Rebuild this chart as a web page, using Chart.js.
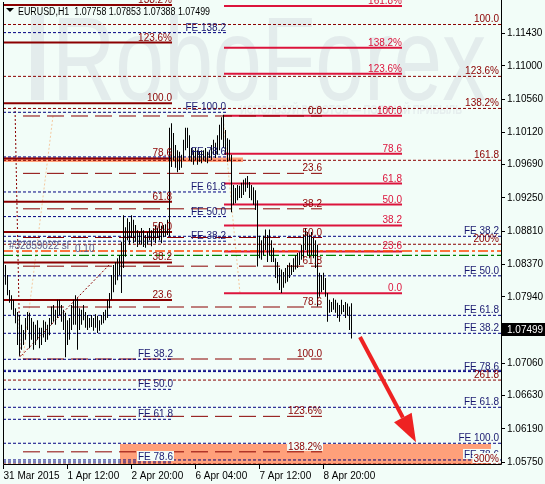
<!DOCTYPE html>
<html>
<head>
<meta charset="utf-8">
<script src="https://cdn.jsdelivr.net/npm/chart.js@4.4.1/dist/chart.umd.min.js"></script>
<style>
  html, body { margin: 0; padding: 0; background: #F2FDF8; }
</style>
</head>
<body>
<canvas id="chart" width="545" height="484"></canvas>
<script>
// EURUSD H1, bar 0 = 31 Mar 2015 04:00, one bar per hour
const highs = [
  1.0840,1.0836,1.0823,1.0803,1.0796,1.0790,1.0779,1.0774,1.0770,1.0757,
  1.0750,1.0766,1.0774,1.0773,1.0766,1.0761,1.0757,1.0763,1.0753,1.0753,
  1.0763,1.0761,1.0757,1.0766,1.0781,1.0783,1.0777,1.0790,1.0790,1.0783,
  1.0777,1.0773,1.0763,1.0766,1.0783,1.0790,1.0796,1.0792,1.0779,1.0777,
  1.0783,1.0774,1.0770,1.0766,1.0770,1.0766,1.0771,1.0769,1.0763,1.0770,
  1.0774,1.0777,1.0790,1.0799,1.0823,1.0836,1.0840,1.0845,1.0849,1.0867,
  1.0902,1.0886,1.0898,1.0893,1.0902,1.0896,1.0889,1.0882,1.0880,1.0885,
  1.0882,1.0876,1.0880,1.0885,1.0882,1.0885,1.0889,1.0885,1.0893,1.0888,
  1.0889,1.0890,1.0896,1.1018,1.1024,1.1011,1.0995,1.0988,1.0986,1.0982,
  1.1002,1.1018,1.1018,1.1008,1.0991,1.0988,1.0991,1.0988,1.0986,1.0988,
  1.0988,1.0991,1.0986,1.0988,1.0995,1.1002,1.0998,1.1008,1.1022,1.1032,
  1.1035,1.1015,1.1004,1.1002,1.0982,1.0942,1.0938,1.0942,1.0941,1.0945,
  1.0949,1.0951,1.0954,1.0946,1.0942,1.0939,1.0935,1.0922,1.0875,1.0869,
  1.0875,1.0883,1.0876,1.0883,1.0869,1.0859,1.0845,1.0840,1.0832,1.0830,
  1.0827,1.0832,1.0836,1.0839,1.0836,1.0845,1.0849,1.0852,1.0853,1.0863,
  1.0876,1.0885,1.0880,1.0876,1.0880,1.0872,1.0869,1.0863,1.0826,1.0823,
  1.0826,1.0819,1.0799,1.0790,1.0787,1.0792,1.0790,1.0786,1.0783,1.0790,
  1.0783,1.0787,1.0785,1.0781,1.07853
];
const lows = [
  1.0812,1.0810,1.0796,1.0786,1.0777,1.0770,1.0759,1.0730,1.0716,1.0724,
  1.0730,1.0737,1.0750,1.0726,1.0737,1.0724,1.0730,1.0737,1.0726,1.0730,
  1.0740,1.0734,1.0737,1.0743,1.0757,1.0761,1.0757,1.0766,1.0770,1.0761,
  1.0750,1.0714,1.0730,1.0737,1.0750,1.0757,1.0757,1.0724,1.0750,1.0757,
  1.0763,1.0753,1.0750,1.0753,1.0754,1.0749,1.0753,1.0746,1.0749,1.0757,
  1.0759,1.0763,1.0766,1.0779,1.0790,1.0800,1.0810,1.0816,1.0823,1.0799,
  1.0832,1.0847,1.0869,1.0863,1.0872,1.0865,1.0867,1.0860,1.0864,1.0863,
  1.0860,1.0859,1.0863,1.0869,1.0861,1.0869,1.0865,1.0872,1.0869,1.0865,
  1.0873,1.0874,1.0876,1.0874,1.0966,1.0975,1.0965,1.0959,1.0962,1.0965,
  1.0975,1.0988,1.0991,1.0975,1.0973,1.0969,1.0975,1.0969,1.0973,1.0971,
  1.0975,1.0973,1.0971,1.0978,1.0975,1.0982,1.0978,1.0982,1.0988,1.1002,
  1.0991,1.0982,1.0973,1.0975,1.0906,1.0916,1.0918,1.0922,1.0925,1.0925,
  1.0929,1.0933,1.0938,1.0925,1.0922,1.0916,1.0909,1.0834,1.0845,1.0843,
  1.0849,1.0856,1.0840,1.0849,1.0840,1.0840,1.0819,1.0812,1.0803,1.0799,
  1.0806,1.0812,1.0814,1.0819,1.0823,1.0827,1.0830,1.0832,1.0836,1.0843,
  1.0845,1.0856,1.0849,1.0845,1.0849,1.0845,1.0832,1.0781,1.0794,1.0800,
  1.0803,1.0794,1.0761,1.0773,1.0774,1.0777,1.0773,1.0766,1.0761,1.0771,
  1.0774,1.0766,1.0769,1.0750,1.07388
];
const lastOpen = 1.07758;
const lastClose = 1.07499;

const xTickBars = [0, 32, 64, 96, 128, 160];
const xTickLabels = ['31 Mar 2015', '1 Apr 12:00', '2 Apr 20:00', '6 Apr 04:00', '7 Apr 12:00', '8 Apr 20:00'];
const yTicks = [1.1143, 1.1100, 1.1056, 1.1012, 1.0969, 1.0925, 1.0881, 1.0837, 1.0794, 1.0706, 1.0663, 1.0619, 1.0575];

// fibo levels and their captions
const retrLevels = [0, 23.6, 38.2, 50, 61.8, 78.6, 100, 123.6, 138.2, 161.8];
const retrLabels = ['0.0', '23.6', '38.2', '50.0', '61.8', '78.6', '100.0', '123.6%', '138.2%', '161.8%'];
const feLevels = [38.2, 50, 61.8, 78.6, 100, 138.2];
const feLabels = ['FE 38.2', 'FE 50.0', 'FE 61.8', 'FE 78.6', 'FE 100.0', 'FE 138.2'];
const extLevels = [100, 123.6, 138.2, 161.8, 200, 261.8, 300];
const extLabels = ['100.0', '123.6%', '138.2%', '161.8', '200%', '261.8', '300%'];

// anchors: price at level 0, price at level 100
const retrMaroon = [1.07092, 1.10503];
const retrDashed = [1.10335, 1.07116];
const retrCrimson = [1.07986, 1.10339];
const feUpper = [1.07621, 1.10384];
const feLower = [1.08398, 1.05031];
const feRight1 = [1.10436, 1.06000];
const feRight2 = [1.09043, 1.04890];
const extFull = [1.14458, 1.11547];

// order lines: stop loss, open price
const orderLines = [1.08548, 1.08490];
// rectangles: [fromBar, toBar, topPrice, bottomPrice]
const rectUpper = [-0.25, 119.75, 1.09785, 1.09725];
const rectLower = [58.25, 243.75, 1.05990, 1.05700];
// fibo trend lines [bar, price]
const trendFE = [[5.75, 1.10454], [8.25, 1.07143], [53.25, 1.08374]];
const trendDashed = [[24.75, 1.10335], [9.75, 1.07116]];
const trendCrimson = [[109.75, 1.10339], [118.25, 1.07986]];
// red arrow [bar, price]
const arrowFrom = [178.25, 1.07408];
const arrowTo = [206.25, 1.06013];

const bgColor = '#F2FDF8';
const fontFamily = '"Liberation Sans", Arial, sans-serif';
const font10 = '10px ' + fontFamily;
const maroon = '#8B0000', crimson = '#DC143C', navy = '#000080', salmon = '#FFA07A';

const fibs = [
  { anchor: feUpper, levels: feLevels, labels: feLabels, use: [0,1,2,3,4,5], span: [-0.25, 111.25], color: navy, width: 1, dash: [3,2], text: '#191970' },
  { anchor: feLower, levels: feLevels, labels: feLabels, use: [0,1,2,3], span: [-0.25, 84.75], color: navy, width: 1, dash: [3,2], text: '#191970' },
  { anchor: feRight1, levels: feLevels, labels: feLabels, use: [0,1,2,3,4], span: [-0.25, 248.75], color: navy, width: 1, dash: [3,2], text: '#191970' },
  { anchor: feRight2, levels: feLevels, labels: feLabels, use: [0,1,2,3], hide: [1], span: [-0.25, 248.75], color: navy, width: 1, dash: [3,2], text: '#191970' },
  { anchor: retrMaroon, levels: retrLevels, labels: retrLabels, use: [1,2,3,4,5,6,7,8], span: [-0.25, 84.25], color: maroon, width: 2, dash: [], text: maroon },
  { anchor: retrDashed, levels: retrLevels, labels: retrLabels, use: [0,1,2,3,4,5,6,7,8], span: [9.75, 159.25], color: maroon, width: 1, dash: [17,7], text: maroon },
  { anchor: retrCrimson, levels: retrLevels, labels: retrLabels, use: [0,1,2,3,4,5,6,7,8,9], span: [110.25, 199.25], color: crimson, width: 2, dash: [], text: crimson },
  { anchor: extFull, levels: extLevels, labels: extLabels, use: [0,1,2,3,4,5,6], span: [-0.25, 248.75], color: maroon, width: 1, dash: [3,2], text: maroon }
];

function levelPrice(anchor, lv) {
  return anchor[0] + (anchor[1] - anchor[0]) * lv / 100;
}

const datasets = [];
datasets.push({
  type: 'bar',
  data: highs.map((h, i) => ({ x: i, y: [lows[i], h] })),
  backgroundColor: '#000',
  borderWidth: 0,
  barThickness: 1,
  inflateAmount: 0,
  order: 0
});

fibs.forEach(f => {
  f.use.forEach(k => {
    const p = levelPrice(f.anchor, f.levels[k]);
    datasets.push({
      type: 'line',
      data: [{ x: f.span[0], y: p }, { x: f.span[1], y: p }],
      borderColor: f.color, borderWidth: f.width, borderDash: f.dash,
      pointRadius: 0, fill: false, order: 3
    });
  });
});

[rectUpper, rectLower].forEach(r => {
  datasets.push({
    type: 'line',
    data: [{ x: r[0], y: r[2] }, { x: r[1], y: r[2] }],
    borderWidth: 0, pointRadius: 0,
    fill: { value: r[3] }, backgroundColor: salmon, order: 9
  });
});

datasets.push({
  type: 'line', data: [{ x: -0.25, y: orderLines[0] }, { x: 248.75, y: orderLines[0] }],
  borderColor: '#FF4500', borderWidth: 1.5, borderDash: [10,3,3,3], pointRadius: 0, fill: false, order: 2
});
datasets.push({
  type: 'line', data: [{ x: -0.25, y: orderLines[1] }, { x: 248.75, y: orderLines[1] }],
  borderColor: '#008000', borderWidth: 1.2, borderDash: [10,3,3,3], pointRadius: 0, fill: false, order: 2
});

[[trendFE, maroon], [trendDashed, '#F5C9A0'], [trendCrimson, '#F5C9A0']].forEach(t => {
  datasets.push({
    type: 'line', data: t[0].map(p => ({ x: p[0], y: p[1] })),
    borderColor: t[1], borderWidth: 1, borderDash: [2,2], pointRadius: 0, fill: false, order: 4
  });
});

function boxesOverlap(a, b) {
  return a[0] < b[2] && a[2] > b[0] && a[1] < b[3] && a[3] > b[1];
}

const decor = {
  id: 'decor',
  beforeDraw(chart) {
    const ctx = chart.ctx;
    ctx.save();
    ctx.fillStyle = bgColor;
    ctx.fillRect(0, 0, chart.width, chart.height);
    ctx.restore();
  },
  beforeDatasetsDraw(chart) {
    const ctx = chart.ctx;
    ctx.save();
    ctx.fillStyle = '#E3ECEC';
    ctx.fillRect(31, 15, 13, 85);
    ctx.font = '119px ' + fontFamily;
    const w = ctx.measureText('RoboForex').width;
    ctx.translate(52, 100);
    ctx.scale(434 / w, 1);
    ctx.fillText('RoboForex', 0, 0);
    ctx.restore();
    ctx.save();
    ctx.fillStyle = '#E6EEEE';
    ctx.font = 'bold 12px ' + fontFamily;
    const s = 'ИСПОЛЬЗУЙ РОБОТОВ — ПОЛУЧАЙ ПРИБЫЛЬ';
    const w2 = ctx.measureText(s).width;
    ctx.translate(240, 114);
    ctx.scale(222 / w2, 1);
    ctx.fillText(s, 0, 0);
    ctx.restore();
  },
  afterDatasetsDraw(chart) {
    const { ctx, chartArea: a } = chart;
    const x = chart.scales.x, y = chart.scales.y;
    ctx.save();
    ctx.font = font10;
    ctx.textAlign = 'right';
    ctx.textBaseline = 'alphabetic';
    const lowBox = [x.getPixelForValue(rectLower[0]), y.getPixelForValue(rectLower[2]),
                    x.getPixelForValue(rectLower[1]), y.getPixelForValue(rectLower[3])];
    fibs.forEach(f => {
      f.use.forEach(k => {
        if (f.hide && f.hide.includes(k)) return;
        const txt = f.labels[k];
        const py = y.getPixelForValue(levelPrice(f.anchor, f.levels[k]));
        const px = Math.min(x.getPixelForValue(f.span[1]), a.right - 2);
        const w = ctx.measureText(txt).width;
        const box = [px - w - 1, py - 11, px + 1, py - 1];
        if (boxesOverlap(box, lowBox)) {
          ctx.fillStyle = bgColor;
          ctx.fillRect(box[0], box[1], box[2] - box[0], box[3] - box[1]);
        }
        ctx.fillStyle = f.text;
        ctx.fillText(txt, px, py - 2);
      });
    });
    // order line captions
    ctx.textAlign = 'left';
    ctx.fillStyle = '#5A5A8A';
    ctx.fillText('#32859022 sl', 9, y.getPixelForValue(orderLines[0]) - 2);
    ctx.fillText('0.10', 75, y.getPixelForValue(orderLines[1]) - 3);

    // red arrow
    const x0 = x.getPixelForValue(arrowFrom[0]), y0 = y.getPixelForValue(arrowFrom[1]);
    const x1 = x.getPixelForValue(arrowTo[0]), y1 = y.getPixelForValue(arrowTo[1]);
    const len = Math.hypot(x1 - x0, y1 - y0);
    const ux = (x1 - x0) / len, uy = (y1 - y0) / len;
    const bx = x1 - ux * 28, by = y1 - uy * 28;
    ctx.strokeStyle = '#EE2222';
    ctx.fillStyle = '#EE2222';
    ctx.lineWidth = 4;
    ctx.beginPath();
    ctx.moveTo(x0, y0);
    ctx.lineTo(bx, by);
    ctx.stroke();
    ctx.beginPath();
    ctx.moveTo(x1, y1);
    ctx.lineTo(bx - uy * 10, by + ux * 10);
    ctx.lineTo(bx + uy * 10, by - ux * 10);
    ctx.closePath();
    ctx.fill();
    ctx.restore();
  },
  afterDraw(chart) {
    const { ctx, chartArea: a } = chart;
    const y = chart.scales.y;
    ctx.save();
    ctx.strokeStyle = '#000';
    ctx.lineWidth = 1;
    ctx.beginPath();
    ctx.moveTo(a.left + 0.5, a.top);
    ctx.lineTo(a.left + 0.5, a.bottom - 0.5);
    ctx.lineTo(a.right + 0.5, a.bottom - 0.5);
    ctx.lineTo(a.right + 0.5, 0);
    ctx.stroke();

    // current price box
    const py = Math.round(y.getPixelForValue(lastClose));
    ctx.fillStyle = '#000';
    ctx.fillRect(a.right + 1, py - 7, 44, 13);
    ctx.fillStyle = '#fff';
    ctx.font = font10;
    ctx.textAlign = 'left';
    ctx.textBaseline = 'middle';
    ctx.fillText(lastClose.toFixed(5), a.right + 6, py);

    // title
    ctx.fillStyle = '#000';
    ctx.beginPath();
    ctx.moveTo(6, 8); ctx.lineTo(14, 8); ctx.lineTo(10, 12); ctx.closePath();
    ctx.fill();
    ctx.textBaseline = 'alphabetic';
    const title = 'EURUSD,H1  ' + [lastOpen, highs[highs.length - 1], lows[lows.length - 1], lastClose]
      .map(v => v.toFixed(5)).join(' ');
    const tw = ctx.measureText(title).width;
    ctx.translate(18, 15);
    ctx.scale(192 / tw, 1);
    ctx.fillText(title, 0, 0);
    ctx.restore();
  }
};

new Chart(document.getElementById('chart'), {
  type: 'bar',
  data: { datasets: datasets },
  options: {
    responsive: false,
    animation: false,
    layout: { padding: { left: 3, top: 2, right: 0, bottom: 0 } },
    plugins: { legend: { display: false }, tooltip: { enabled: false } },
    scales: {
      x: {
        type: 'linear',
        min: -0.25, max: 248.75,
        offset: false,
        grid: { offset: false, drawOnChartArea: false, drawTicks: true, tickLength: 4, color: '#000' },
        border: { display: false },
        afterBuildTicks: s => { s.ticks = xTickBars.map(v => ({ value: v })); },
        afterFit: s => { s.height = 19; s.paddingLeft = 0; s.paddingRight = 0; },
        ticks: {
          autoSkip: false, maxRotation: 0, align: 'start', padding: 1,
          color: '#000', font: { family: fontFamily, size: 10 },
          callback: (v, i) => xTickLabels[i]
        }
      },
      y: {
        type: 'linear',
        position: 'right',
        min: 1.05712, max: 1.11845,
        beginAtZero: false,
        grid: { drawOnChartArea: false, drawTicks: true, tickLength: 4, color: '#000' },
        border: { display: false },
        afterBuildTicks: s => { s.ticks = yTicks.map(v => ({ value: v })); },
        afterFit: s => { s.width = 44; s.paddingTop = 0; s.paddingBottom = 0; },
        ticks: {
          padding: 2, color: '#000',
          font: { family: fontFamily, size: 10 },
          callback: v => v.toFixed(5)
        }
      }
    }
  },
  plugins: [decor]
});
</script>
</body>
</html>
